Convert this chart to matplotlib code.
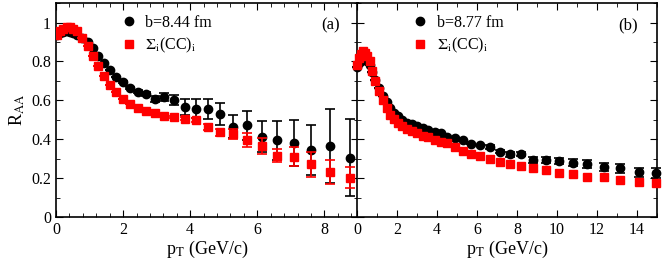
import numpy as np
import matplotlib
matplotlib.use('Agg')
import matplotlib.pyplot as plt
from matplotlib.ticker import MultipleLocator

plt.rcParams['font.family'] = ['Liberation Serif', 'DejaVu Serif']
plt.rcParams['mathtext.fontset'] = 'stix'

# panel (a): b = 8.44 fm
xa = [0.02, 0.12, 0.22, 0.32, 0.42, 0.52, 0.63, 0.79, 0.95, 1.10, 1.25, 1.43, 1.61, 1.79,
      2.0, 2.22, 2.45, 2.68, 2.95, 3.23, 3.52, 3.85, 4.17, 4.52, 4.88, 5.29, 5.68, 6.14,
      6.59, 7.08, 7.61, 8.17, 8.75]
raa_a = [0.935, 0.945, 0.952, 0.955, 0.953, 0.948, 0.938, 0.92, 0.898, 0.868, 0.83, 0.79,
         0.756, 0.722, 0.696, 0.665, 0.644, 0.632, 0.608, 0.619, 0.600, 0.567, 0.557, 0.556,
         0.529, 0.464, 0.471, 0.414, 0.395, 0.380, 0.344, 0.366, 0.306]
err_a = [0, 0, 0, 0, 0, 0, 0, 0, 0, 0, 0, 0, 0, 0, 0.005, 0.005, 0.008, 0.01, 0.015, 0.02,
         0.025, 0.04, 0.05, 0.05, 0.055, 0.06, 0.075, 0.08, 0.10, 0.12, 0.13, 0.19, 0.20]
cc_a = [0.935, 0.955, 0.968, 0.975, 0.975, 0.968, 0.954, 0.918, 0.878, 0.83, 0.778, 0.727,
        0.680, 0.643, 0.608, 0.581, 0.562, 0.543, 0.534, 0.517, 0.512, 0.505, 0.498, 0.462,
        0.435, 0.426, 0.397, 0.366, 0.316, 0.311, 0.272, 0.232, 0.203]
ccerr_a = [0, 0, 0, 0, 0, 0, 0, 0, 0, 0, 0, 0, 0, 0, 0, 0, 0, 0, 0, 0, 0.005, 0.008, 0.01,
           0.015, 0.02, 0.025, 0.035, 0.04, 0.035, 0.05, 0.065, 0.06, 0.055]

# panel (b): b = 8.77 fm
xb = [0.02, 0.12, 0.22, 0.32, 0.42, 0.52, 0.63, 0.77, 0.92, 1.10, 1.28, 1.48, 1.65, 1.85,
      2.03, 2.23, 2.48, 2.73, 2.98, 3.28, 3.56, 3.89, 4.19, 4.52, 4.89, 5.30, 5.72, 6.13,
      6.63, 7.13, 7.66, 8.21, 8.79, 9.43, 10.09, 10.79, 11.52, 12.34, 13.17, 14.08, 14.97]
raa_b = [0.77, 0.79, 0.80, 0.81, 0.81, 0.80, 0.78, 0.745, 0.706, 0.663, 0.62, 0.589, 0.56,
         0.534, 0.517, 0.50, 0.486, 0.478, 0.469, 0.457, 0.448, 0.436, 0.431, 0.414, 0.409,
         0.397, 0.376, 0.368, 0.359, 0.337, 0.323, 0.325, 0.294, 0.294, 0.289, 0.28, 0.272,
         0.259, 0.251, 0.23, 0.225]
err_b = [0]*28 + [0.01, 0.01, 0.012, 0.012, 0.015, 0.015, 0.015, 0.018, 0.02, 0.02,
                  0.022, 0.022, 0.025]
cc_b = [0.78, 0.818, 0.84, 0.852, 0.845, 0.83, 0.80, 0.749, 0.697, 0.646, 0.603, 0.56, 0.526,
        0.504, 0.483, 0.469, 0.452, 0.44, 0.431, 0.419, 0.414, 0.397, 0.388, 0.38, 0.362,
        0.342, 0.325, 0.314, 0.297, 0.282, 0.272, 0.263, 0.251, 0.242, 0.225, 0.222, 0.208,
        0.205, 0.191, 0.182, 0.174]

fig = plt.figure(figsize=(6.64, 2.67), dpi=100)
ax1 = fig.add_axes([0.0843, 0.187, 0.4548, 0.8015])
ax2 = fig.add_axes([0.5377, 0.187, 0.4518, 0.8015])

def style(ax, xmax, xmaj, xmin):
    ax.set_xlim(0, xmax)
    ax.set_ylim(0, 1.1)
    ax.xaxis.set_major_locator(MultipleLocator(xmaj))
    ax.xaxis.set_minor_locator(MultipleLocator(xmin))
    ax.yaxis.set_major_locator(MultipleLocator(0.2))
    ax.yaxis.set_minor_locator(MultipleLocator(0.1))
    ax.tick_params(which='both', direction='in', top=True, right=True, labelsize=11.5)
    ax.tick_params(which='major', length=5)
    ax.tick_params(which='minor', length=3)
    ax.set_xlabel(r'p$_{\rm T}$ (GeV/c)', fontsize=13, labelpad=1)

style(ax1, 9, 2, 0.4)
style(ax2, 15, 2, 1)
fmt = plt.FuncFormatter(lambda v, p: '%g' % v)
ax1.yaxis.set_major_formatter(fmt)
ax1.xaxis.set_major_formatter(fmt)
ax2.xaxis.set_major_formatter(fmt)
ax2.set_yticklabels([])
ax1.set_ylabel(r'R$_{\rm AA}$', fontsize=13, labelpad=3)

lab_cc = r'$\Sigma_{\rm i}$(CC)$_{\rm i}$'
h1 = ax1.errorbar(xa, raa_a, yerr=err_a, fmt='o', color='k', ms=6, capsize=3.5,
                  elinewidth=1.2, capthick=1.2, zorder=3)
h2 = ax1.errorbar(xa, cc_a, yerr=ccerr_a, fmt='s', color='red', ms=5.2, capsize=3.5,
                  elinewidth=1.2, capthick=1.2, zorder=4)
ax1.legend([h1[0], h2[0]], ['b=8.44 fm', lab_cc], loc='upper left',
           bbox_to_anchor=(0.18, 0.975), frameon=False, fontsize=11.5,
           handletextpad=0.3, labelspacing=0.3, borderaxespad=0, handlelength=1.5)
ax1.text(0.91, 0.895, '(a)', transform=ax1.transAxes, fontsize=12, ha='center', va='center')

h3 = ax2.errorbar(xb, raa_b, yerr=err_b, fmt='o', color='k', ms=6, capsize=3.5,
                  elinewidth=1.2, capthick=1.2, zorder=3, clip_on=False)
h4 = ax2.errorbar(xb, cc_b, fmt='s', color='red', ms=5.2, zorder=4, clip_on=False)
ax2.legend([h3[0], h4[0]], ['b=8.77 fm', lab_cc], loc='upper left',
           bbox_to_anchor=(0.15, 0.975), frameon=False, fontsize=11.5,
           handletextpad=0.3, labelspacing=0.3, borderaxespad=0, handlelength=1.5)
ax2.text(0.905, 0.895, '(b)', transform=ax2.transAxes, fontsize=12, ha='center', va='center')

for ax in (ax1, ax2):
    for s in ax.spines.values():
        s.set_linewidth(1.2)

plt.savefig('out.png', dpi=100)
